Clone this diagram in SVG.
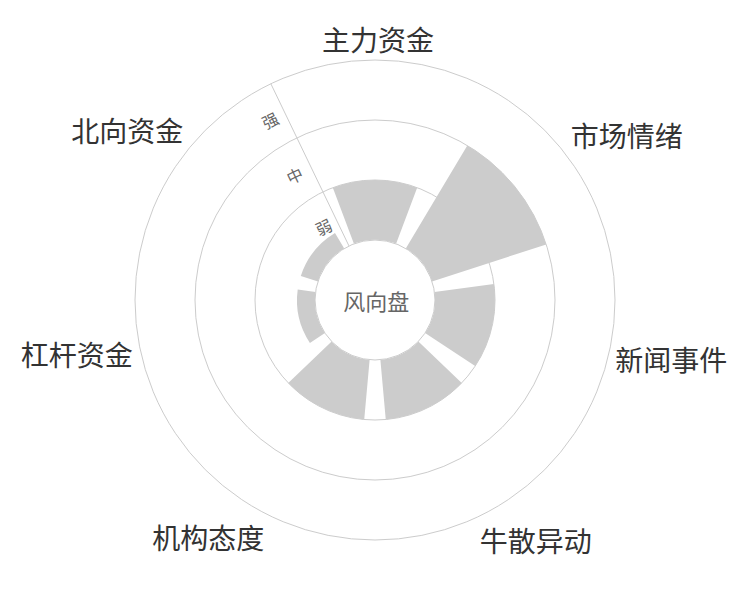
<svg xmlns="http://www.w3.org/2000/svg" width="750" height="600" viewBox="0 0 750 600">
<style>
.ring{fill:none;stroke:#cccccc;stroke-width:1}
.bar{fill:#cccccc;stroke:none}
.cat{font-family:"Noto Sans CJK SC","Noto Sans",sans-serif;font-size:28px;fill:#333333;text-anchor:middle}
.lvl{font-family:"Noto Sans CJK SC","Noto Sans",sans-serif;font-size:16px;fill:#666666;text-anchor:middle;dominant-baseline:central}
.ctr{font-family:"Noto Sans CJK SC","Noto Sans",sans-serif;font-size:22px;fill:#666666;text-anchor:middle}
</style>
<rect width="750" height="600" fill="#ffffff"/>
<g id="grid">
<circle class="ring" cx="375" cy="300" r="240"/>
<circle class="ring" cx="375" cy="300" r="180"/>
<circle class="ring" cx="375" cy="300" r="120"/>
</g>
<g id="bars">
<path id="bar-zhuli" class="bar" d="M332.84,187.65 A120,120 0 0 1 417.16,187.65 L396.08,243.83 A60,60 0 0 0 353.92,243.83 Z"/>
<path id="bar-qingxu" class="bar" d="M467.33,145.48 A180,180 0 0 1 546.19,244.38 L432.06,281.46 A60,60 0 0 0 405.78,248.49 Z"/>
<path id="bar-xinwen" class="bar" d="M493.91,283.89 A120,120 0 0 1 475.15,366.11 L425.07,333.05 A60,60 0 0 0 434.46,291.95 Z"/>
<path id="bar-niusan" class="bar" d="M461.74,382.92 A120,120 0 0 1 385.76,419.52 L380.38,359.76 A60,60 0 0 0 418.37,341.46 Z"/>
<path id="bar-jigou" class="bar" d="M364.24,419.52 A120,120 0 0 1 288.26,382.92 L331.63,341.46 A60,60 0 0 0 369.62,359.76 Z"/>
<path id="bar-ganggan" class="bar" d="M309.90,342.97 A78,78 0 0 1 297.71,289.53 L315.54,291.95 A60,60 0 0 0 324.93,333.05 Z"/>
<path id="bar-beixiang" class="bar" d="M300.82,275.90 A78,78 0 0 1 334.99,233.04 L344.22,248.49 A60,60 0 0 0 317.94,281.46 Z"/>
</g>
<g id="axis">
<line x1="348.97" y1="245.94" x2="270.87" y2="83.77" stroke="#cccccc" stroke-width="1"/>
<text class="lvl" transform="translate(323.3,226.7) rotate(-25.71)">弱</text>
<text class="lvl" transform="translate(294.5,175) rotate(-25.71)">中</text>
<text class="lvl" transform="translate(270,120) rotate(-25.71)">强</text>
</g>
<g id="hub">
<circle cx="375" cy="300" r="60" fill="#ffffff" stroke="#cccccc" stroke-width="1"/>
<text class="ctr" x="376.3" y="309.5">风向盘</text>
</g>
<g id="labels">
<text id="lbl-zhuli" class="cat" x="378" y="50.5">主力资金</text>
<text id="lbl-qingxu" class="cat" x="626.7" y="146.5">市场情绪</text>
<text id="lbl-xinwen" class="cat" x="671.3" y="370.5">新闻事件</text>
<text id="lbl-niusan" class="cat" x="535.8" y="551.5">牛散异动</text>
<text id="lbl-jigou" class="cat" x="208.3" y="549">机构态度</text>
<text id="lbl-ganggan" class="cat" x="76.7" y="365.5">杠杆资金</text>
<text id="lbl-beixiang" class="cat" x="127.2" y="142">北向资金</text>
</g>
</svg>
